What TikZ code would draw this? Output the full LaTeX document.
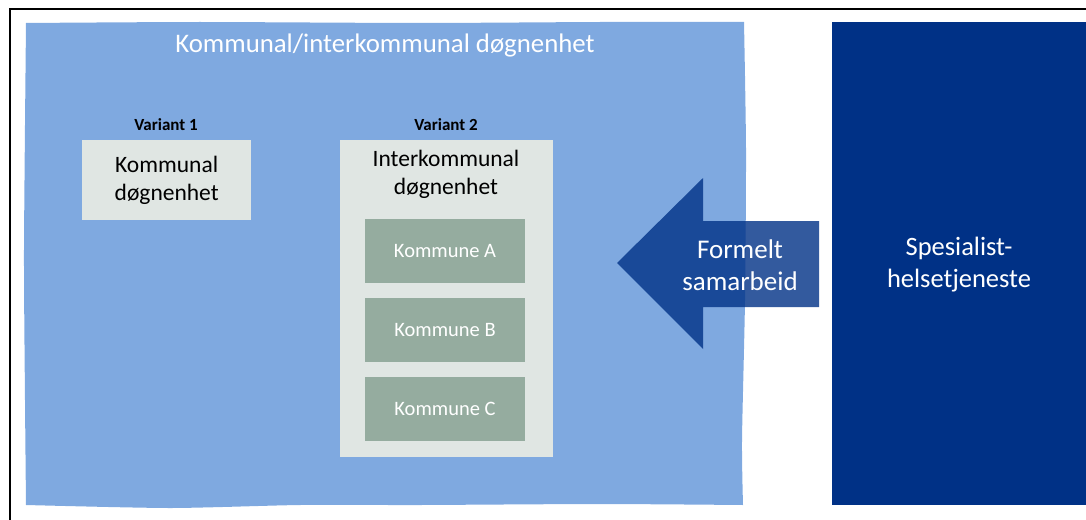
\documentclass[tikz,border=0pt]{standalone}
\usepackage{fontspec}
\setmainfont{Carlito}
\definecolor{lysblaa}{RGB}{127,169,224}
\definecolor{moerkblaa}{RGB}{0,49,134}
\definecolor{lysgraa}{RGB}{224,230,227}
\definecolor{kommgraa}{RGB}{149,172,159}
\tikzset{
  variantboks/.style={fill=lysgraa, inner sep=0pt, anchor=north west},
  kommuneboks/.style={fill=kommgraa, text=white, minimum width=160pt, minimum height=64pt,
    inner sep=0pt, font=\fontsize{20.5}{24}\selectfont},
  overskrift/.style={font=\bfseries\fontsize{17}{20}\selectfont}
}
\begin{document}
\begin{tikzpicture}[x=1pt,y=-1pt]
  \useasboundingbox (0,0) rectangle (1086,519);
  % ramme
  \draw [line width=1.8pt] (10,530) -- (10,9) -- (1090,9);

  % kommunal / interkommunal flate
  \fill [lysblaa] plot[smooth,tension=0.4] coordinates {(26,23) (200,22) (420,23) (600,22) (744,22)}
    -- plot[smooth,tension=0.4] coordinates {(744,22) (746,150) (745,300) (742,440) (743,505)}
    -- plot[smooth,tension=0.4] coordinates {(743,505) (600,504) (420,505) (300,505) (170,508) (26,505)}
    -- plot[smooth,tension=0.4] coordinates {(26,505) (25,400) (24,250) (26,23)} -- cycle;
  \node (tittel) [text=white, font=\fontsize{26.8}{31}\selectfont] at (385,45) {Kommunal/interkommunal døgnenhet};

  % spesialisthelsetjenesten
  \fill [moerkblaa] (832,22) rectangle (1090,505);
  \node (spes) [text=white, align=center, font=\fontsize{26.5}{32}\selectfont] at (959,265) {Spesialist-\\helsetjeneste};

  % variant 1
  \node (var1) [overskrift] at (166,125) {Variant 1};
  \node (kommunal) [variantboks, minimum width=169pt, minimum height=80pt] at (82,140) {};
  \node [align=center, font=\fontsize{23.5}{28}\selectfont] at (kommunal.center) {Kommunal\\døgnenhet};

  % variant 2
  \node (var2) [overskrift] at (446,125) {Variant 2};
  \node (interkommunal) [variantboks, minimum width=213pt, minimum height=317pt] at (340,140) {};
  \node (interkomtekst) [align=center, font=\fontsize{23.5}{28}\selectfont] at (446,174) {Interkommunal\\døgnenhet};
    \node (kommA) [kommuneboks] at (445,250.5) {Kommune A};
    \node (kommB) [kommuneboks] at (445,330) {Kommune B};
    \node (kommC) [kommuneboks] at (445,409) {Kommune C};

  % formelt samarbeid
  \fill [moerkblaa, opacity=0.8] (617,263) -- (703,178) -- (703,221) -- (819,221)
    -- (819,307) -- (703,307) -- (703,349) -- cycle;
  \node (samarbeid) [text=white, align=center, font=\fontsize{27}{32}\selectfont] at (740,265) {Formelt\\samarbeid};
\end{tikzpicture}
\end{document}
